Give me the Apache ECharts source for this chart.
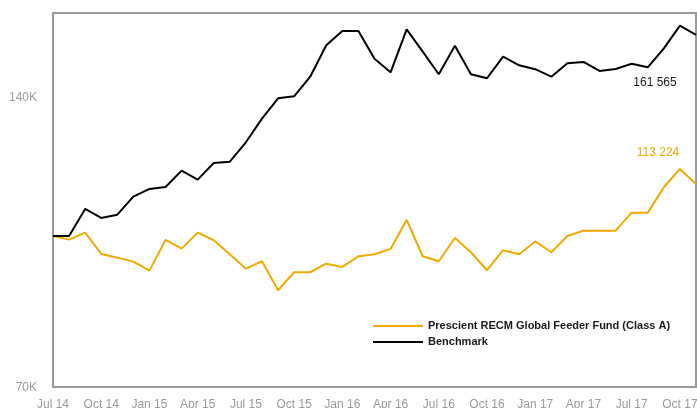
<!DOCTYPE html>
<html>
<head>
<meta charset="utf-8">
<script src="https://cdn.jsdelivr.net/npm/echarts@6/dist/echarts.min.js"></script>
<style>
html,body{margin:0;padding:0;background:#fff;}
#chart{width:697px;height:408px;}
</style>
</head>
<body>
<div id="chart"></div>
<script>
var months = ["Jul 14","Aug 14","Sep 14","Oct 14","Nov 14","Dec 14","Jan 15","Feb 15","Mar 15","Apr 15","May 15","Jun 15","Jul 15","Aug 15","Sep 15","Oct 15","Nov 15","Dec 15","Jan 16","Feb 16","Mar 16","Apr 16","May 16","Jun 16","Jul 16","Aug 16","Sep 16","Oct 16","Nov 16","Dec 16","Jan 17","Feb 17","Mar 17","Apr 17","May 17","Jun 17","Jul 17","Aug 17","Sep 17","Oct 17","Nov 17"];
var fund = [100000,99120,100790,95800,94950,94050,92050,99050,97020,100790,98980,95730,92490,94140,87850,91700,91700,93600,92870,95270,95730,96950,103890,95270,94140,99520,96190,92140,96650,95730,98700,96190,100000,101270,101270,101270,105720,105720,112320,117340,113224];
var bench = [100000,100000,106650,104390,105210,109830,111870,112400,116860,114380,119030,119400,125050,132300,138900,139560,146240,157620,163090,163090,152660,147790,163750,155230,147090,157470,147090,145690,153380,150280,148880,146240,151000,151470,148250,148960,150850,149560,156490,165170,161565];
var yTicks = [70000, 140000];
var fundName = "Prescient RECM Global Feeder Fund (Class A)";
var benchName = "Benchmark";

function fmtSpace(v){ return String(Math.round(v)).replace(/\B(?=(\d{3})+(?!\d))/g, ' '); }

var chart = echarts.init(document.getElementById('chart'), null, {renderer:'canvas'});
var lastMonth = months[months.length-1];
chart.setOption({
  animation:false,
  textStyle:{fontFamily:'Liberation Sans, Arial, sans-serif'},
  grid:{left:53, right:1, top:13, bottom:21, show:true, borderColor:'#999', borderWidth:2, backgroundColor:'transparent', containLabel:false, outerBoundsMode:'none'},
  legend:{
    orient:'vertical', left:373, top:320.5, padding:0, itemWidth:50, itemHeight:2, itemGap:5,
    icon:'path://M0,0 L50,0 L50,2 L0,2 Z',
    data:[fundName, benchName],
    textStyle:{color:'#1a1a1a', fontSize:11, fontWeight:'bold', fontFamily:'Liberation Sans, Arial, sans-serif'}
  },
  xAxis:{
    type:'category', data:months, boundaryGap:false,
    axisLine:{show:false}, axisTick:{show:false}, splitLine:{show:false},
    axisLabel:{interval:2, color:'#9a9a9a', fontSize:12, margin:12}
  },
  yAxis:{
    type:'log', logBase:2, min:69730, max:170250,
    axisLine:{show:false}, axisTick:{show:false}, splitLine:{show:false}, minorTick:{show:false}, minorSplitLine:{show:false},
    axisLabel:{customValues:yTicks, color:'#9a9a9a', fontSize:12, margin:16,
      formatter:function(v){ return '{a|' + Math.round(v/1000) + 'K}'; },
      rich:{a:{color:'#9a9a9a', fontSize:12, padding:[5,0,0,0]}}}
  },
  series:[
    {name:fundName, type:'line', data:fund, symbol:'none', lineStyle:{color:'#F2A900', width:2}, itemStyle:{color:'#F2A900'},
     markPoint:{symbol:'circle', symbolSize:1, itemStyle:{color:'transparent'}, silent:true,
       data:[{coord:[lastMonth, fund[fund.length-1]], label:{show:true, position:'inside', offset:[-38,-31], color:'#F2A900', fontSize:12, formatter:function(){return fmtSpace(fund[fund.length-1]);}}}]}},
    {name:benchName, type:'line', data:bench, symbol:'none', lineStyle:{color:'#000', width:2}, itemStyle:{color:'#000'},
     markPoint:{symbol:'circle', symbolSize:1, itemStyle:{color:'transparent'}, silent:true,
       data:[{coord:[lastMonth, bench[bench.length-1]], label:{show:true, position:'inside', offset:[-41,48], color:'#1a1a1a', fontSize:12, formatter:function(){return fmtSpace(bench[bench.length-1]);}}}]}}
  ]
});
</script>
</body>
</html>
